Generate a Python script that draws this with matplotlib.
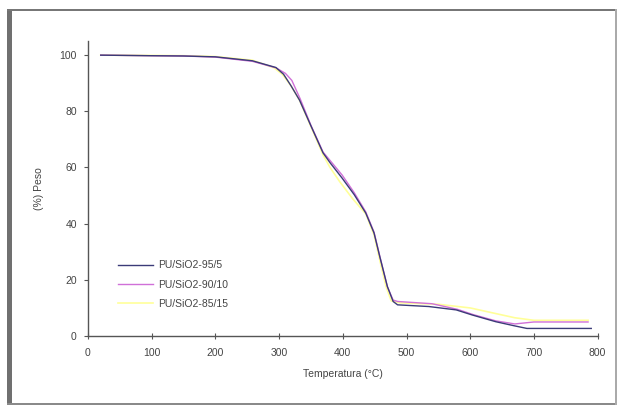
import matplotlib
matplotlib.use('Agg')
import matplotlib.pyplot as plt
from matplotlib.patches import Rectangle

plt.rcParams['font.family'] = ['Liberation Sans', 'DejaVu Sans']

# TGA curves (temperature in C, weight in %)
temp_95 = [20, 100, 150, 200, 258, 295, 307, 319, 332, 350, 369, 380, 399, 418,
           436, 449, 458, 470, 479, 486, 535, 578, 603, 640, 670, 689, 790]
peso_95 = [100, 99.8, 99.7, 99.4, 98, 95.6, 93.2, 89, 84, 74.8, 65.2, 61.7, 56.2,
           50.3, 43.8, 36.7, 28.3, 17.6, 12.3, 11.1, 10.5, 9.3, 7.5, 5.1, 3.6, 2.7, 2.7]

temp_90 = [20, 100, 150, 200, 258, 295, 310, 320, 333, 350, 369, 380, 399, 418,
           436, 449, 458, 470, 479, 486, 540, 580, 605, 640, 670, 700, 785]
peso_90 = [100, 99.8, 99.7, 99.3, 97.8, 95.5, 93.5, 91, 84.5, 75, 65.5, 62.5, 57.3,
           51, 44.2, 37, 28.5, 17.5, 12.8, 12.3, 11.5, 9.5, 7.6, 5.4, 4.3, 5, 5]

temp_85 = [20, 100, 150, 200, 258, 292, 305, 318, 332, 350, 369, 380, 395, 415,
           436, 449, 458, 468, 476, 490, 550, 600, 640, 670, 700, 785]
peso_85 = [100, 99.9, 99.8, 99.5, 98.2, 95.5, 93.2, 89.3, 84, 74.5, 64.5, 60, 55,
           49, 43.5, 36, 27, 17.5, 12.5, 11.8, 11.3, 10, 8, 6.5, 5.6, 5.6]

series = ['PU/SiO2-95/5', 'PU/SiO2-90/10', 'PU/SiO2-85/15']

fig = plt.figure(figsize=(6.17, 4.07), dpi=100)
ax = fig.add_axes([0.1426, 0.1744, 0.826, 0.7246])

ax.plot(temp_95, peso_95, color='#3b3b78', lw=1.0, label=series[0], zorder=3)
ax.plot(temp_90, peso_90, color='#d070d8', lw=1.0, label=series[1], zorder=2)
ax.plot(temp_85, peso_85, color='#ffff99', lw=1.2, label=series[2], zorder=1)

ax.set_xlim(0, 800)
ax.set_ylim(0, 105)
ax.set_xticks(range(0, 801, 100))
ax.set_yticks(range(0, 101, 20))

for s in ['top', 'right']:
    ax.spines[s].set_visible(False)
for s in ['left', 'bottom']:
    ax.spines[s].set_color('#555555')
    ax.spines[s].set_linewidth(1.0)

ax.tick_params(axis='x', direction='inout', length=5, width=0.8, colors='#555555',
               labelcolor='#444444', labelsize=7.5, pad=6)
ax.tick_params(axis='y', direction='out', length=3, width=0.8, colors='#555555',
               labelcolor='#444444', labelsize=7.5, pad=5)

ax.set_xlabel('Temperatura (°C)', fontsize=7.5, color='#444444', labelpad=8)
ax.set_ylabel('(%) Peso', fontsize=7.5, color='#444444', labelpad=11)

ax.legend(loc='lower left', bbox_to_anchor=(0.04, 0.06), frameon=False, fontsize=7.5,
          handlelength=3.4, handletextpad=0.5, labelspacing=0.9, labelcolor='#444444')

# gray frame around the picture
fig.add_artist(Rectangle((0.011, 0.005), 0.008, 0.973, transform=fig.transFigure,
                         color='#707070', lw=0))
fig.add_artist(Rectangle((0.011, 0.972), 0.989, 0.006, transform=fig.transFigure,
                         color='#777777', lw=0))
fig.add_artist(Rectangle((0.011, 0.005), 0.989, 0.005, transform=fig.transFigure,
                         color='#8a8a8a', lw=0))
fig.add_artist(Rectangle((0.996, 0.005), 0.004, 0.973, transform=fig.transFigure,
                         color='#aaaaaa', lw=0))

fig.savefig('out.png', dpi=100)
